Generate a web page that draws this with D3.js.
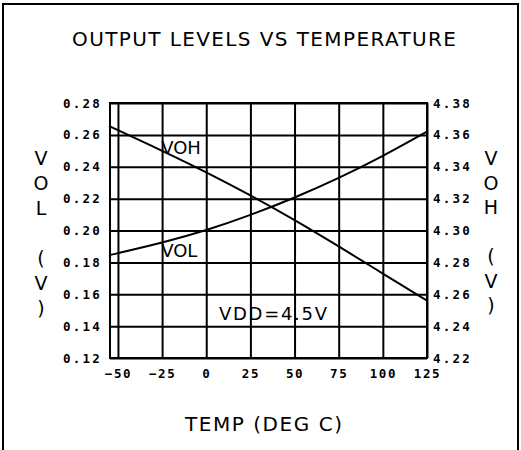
<!DOCTYPE html>
<html>
<head>
<meta charset="utf-8">
<script src="https://cdn.jsdelivr.net/npm/d3@7"></script>
<style>
  body { margin: 0; background: #fff; }
  svg { display: block; }
</style>
</head>
<body>
<svg id="chart" width="521" height="450"></svg>
<script>
// data
var temps = [-54.5, -50, -25, 0, 25, 50, 75, 100, 125];
var vohValues = [4.3653, 4.363, 4.350, 4.3365, 4.322, 4.3065, 4.290, 4.273, 4.256];
var volValues = [0.1846, 0.1858, 0.1925, 0.2003, 0.2098, 0.2207, 0.2330, 0.2468, 0.2620];

var xTicks = [-50, -25, 0, 25, 50, 75, 100, 125];
var volTicks = [0.12, 0.14, 0.16, 0.18, 0.20, 0.22, 0.24, 0.26, 0.28];
var vohTicks = [4.22, 4.24, 4.26, 4.28, 4.30, 4.32, 4.34, 4.36, 4.38];

var leftTitle = ["V", "O", "L", "", "(", "V", ")"];
var rightTitle = ["V", "O", "H", "", "(", "V", ")"];

var svg = d3.select("#chart");
var plot = { left: 110, right: 427, top: 103, bottom: 358 };

var x = d3.scaleLinear().domain([-54.5, 125]).range([plot.left, plot.right]);
var yL = d3.scaleLinear().domain([0.12, 0.28]).range([plot.bottom, plot.top]);
var yR = d3.scaleLinear().domain([4.22, 4.38]).range([plot.bottom, plot.top]);

// outer frame
svg.append("path")
  .attr("d", "M3,452 L3,4 L518,4 L518,452")
  .style("fill", "none")
  .style("stroke", "#000")
  .style("stroke-width", "2px");

var tickFont = "'DejaVu Sans Mono', monospace";

// left axis + horizontal grid
var gL = svg.append("g")
  .attr("transform", "translate(" + plot.left + ",0)")
  .call(d3.axisLeft(yL).tickValues(volTicks).tickFormat(d3.format(".2f"))
    .tickSize(-(plot.right - plot.left)).tickPadding(10));
gL.select(".domain").remove();
gL.selectAll("line").style("stroke", "#000").style("stroke-width", "2px");
gL.selectAll("text")
  .style("font-family", tickFont).style("font-weight", "bold")
  .style("font-size", "12.5px").style("letter-spacing", "2.2px").attr("dx", 2);

// right axis labels
var gR = svg.append("g")
  .attr("transform", "translate(" + plot.right + ",0)")
  .call(d3.axisRight(yR).tickValues(vohTicks).tickFormat(d3.format(".2f"))
    .tickSize(0).tickPadding(6));
gR.select(".domain").remove();
gR.selectAll("text")
  .style("font-family", tickFont).style("font-weight", "bold")
  .style("font-size", "12.5px").style("letter-spacing", "2.2px");

// bottom axis + vertical grid
var gX = svg.append("g")
  .attr("transform", "translate(0," + plot.bottom + ")")
  .call(d3.axisBottom(x).tickValues(xTicks).tickFormat(d3.format("d"))
    .tickSize(-(plot.bottom - plot.top)).tickPadding(11));
gX.select(".domain").remove();
gX.selectAll("line").style("stroke", "#000").style("stroke-width", "2px");
gX.selectAll("text")
  .style("font-family", tickFont).style("font-weight", "bold")
  .style("font-size", "12.5px").style("letter-spacing", "1.6px");

// plot box
svg.append("rect")
  .attr("x", plot.left).attr("y", plot.top)
  .attr("width", plot.right - plot.left).attr("height", plot.bottom - plot.top)
  .style("fill", "none").style("stroke", "#000").style("stroke-width", "2px");

// curves
var vohLine = d3.line()
  .x(function(d, i) { return x(temps[i]); })
  .y(function(d) { return yR(d); })
  .curve(d3.curveNatural);
var volLine = d3.line()
  .x(function(d, i) { return x(temps[i]); })
  .y(function(d) { return yL(d); })
  .curve(d3.curveNatural);

svg.append("path").datum(vohValues).attr("d", vohLine)
  .style("fill", "none").style("stroke", "#000").style("stroke-width", "2px");
svg.append("path").datum(volValues).attr("d", volLine)
  .style("fill", "none").style("stroke", "#000").style("stroke-width", "2px");

var labelFont = "'DejaVu Sans', sans-serif";

function addText(str, tx, ty, size, len) {
  var t = svg.append("text")
    .attr("x", tx).attr("y", ty)
    .attr("dominant-baseline", "central")
    .style("font-family", labelFont)
    .style("font-size", size + "px")
    .text(str);
  if (len) t.attr("textLength", len).attr("lengthAdjust", "spacing");
  return t;
}

addText("OUTPUT LEVELS VS TEMPERATURE", 72, 39, 20, 384);
addText("TEMP (DEG C)", 185, 424, 20, 157);
addText("VOH", x(-25.5), yR(4.352), 18);
addText("VOL", x(-25.5), yL(0.1875), 18);
addText("VDD=4.5V", 219, 313, 18, 108);

// stacked axis titles
leftTitle.forEach(function(c, i) {
  svg.append("text").attr("x", 41).attr("y", 158 + i * 25)
    .attr("text-anchor", "middle").attr("dominant-baseline", "central")
    .style("font-family", labelFont).style("font-size", "19px").text(c);
});
rightTitle.forEach(function(c, i) {
  svg.append("text").attr("x", 491).attr("y", 158 + i * 24.5)
    .attr("text-anchor", "middle").attr("dominant-baseline", "central")
    .style("font-family", labelFont).style("font-size", "19px").text(c);
});
</script>
</body>
</html>
